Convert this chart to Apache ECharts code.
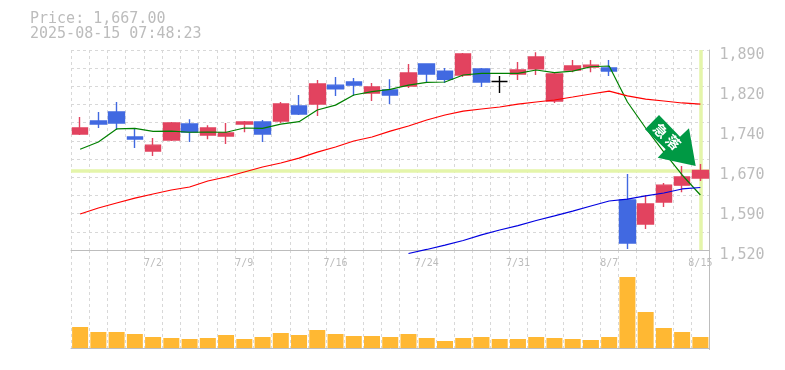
<!DOCTYPE html>
<html><head><meta charset="utf-8">
<style>html,body{margin:0;padding:0;background:#fff}#c{width:785px;height:370px}</style>
<script src="https://cdn.jsdelivr.net/npm/echarts@6/dist/echarts.min.js"></script>
</head><body><div id="c"></div>
<script>
const titleLines = ['Price: 1,667.00', '2025-08-15 07:48:23'];
const categories = ['6/26','6/27','6/30','7/1','7/2','7/3','7/4','7/7','7/8','7/9','7/10','7/11','7/14','7/15','7/16','7/17','7/18','7/22','7/23','7/24','7/25','7/28','7/29','7/30','7/31','8/1','8/4','8/5','8/6','8/7','8/8','8/12','8/13','8/14','8/15'];
const shownDates = ['7/2','7/9','7/16','7/24','7/31','8/7','8/15'];
const priceTicks = [1520,1594,1668,1742,1816,1890];
const priceTickLabels = ['1,520','1,590','1,670','1,740','1,820','1,890'];
const opens  = [1734.6,1758.7,1775.3,1729,1703,1723.5,1753,1732.8,1731,1753,1756.8,1758.7,1786.4,1790,1825,1830.8,1810.5,1816,1823.4,1864,1851,1843.8,1855,1831.7,1845.6,1855,1795.7,1853,1858.6,1856.7,1612.5,1568,1608.8,1640,1653];
const closes = [1745.7,1753,1755,1725.4,1714,1755,1738,1745.7,1736.5,1756.8,1734.6,1790,1771.6,1827,1818,1825,1821.6,1806.8,1847.5,1845.6,1836,1882.6,1830.8,1831.7,1853,1877,1845.6,1860.4,1862,1851,1533,1605,1640,1655,1667];
const lows   = [1732.8,1745.7,1742,1708.7,1694,1721.7,1720,1725,1716,1738,1720,1755,1769.8,1768,1805,1805,1795.7,1790,1819.7,1830.8,1829,1840,1821.6,1810.5,1834.5,1843.8,1792,1849,1849,1842,1521.9,1558.9,1599.6,1627,1647.6];
const highs  = [1766,1775.3,1793.8,1743.9,1727,1756.8,1762,1751,1755,1758.7,1760.5,1793.8,1806.8,1834.5,1840,1838,1829,1836,1864,1864,1856.7,1884.5,1856.7,1842,1867.8,1886,1849,1871.5,1871.5,1871.5,1660.6,1621.8,1644,1675.4,1679];
const maShort = [1706.3,1719.8,1743.9,1745,1739.6,1740,1737.8,1738.3,1737.8,1745.7,1745,1753,1757.4,1779,1788,1806.8,1812.9,1817.3,1825,1830,1830.8,1843.8,1846.9,1846.9,1846.9,1853,1848,1851,1859,1860.4,1793.8,1745.7,1701,1658.8,1621.8];
const maMid = [1586.6,1597.7,1607,1616,1623.6,1631,1636.6,1647.7,1655,1664.3,1673.6,1681,1690,1701,1710.6,1721.7,1729,1740,1749.4,1760.5,1769.8,1777,1780.9,1784.6,1790,1793.8,1797.5,1803,1808.6,1814,1805,1799,1795.7,1792,1790];
const maLong = [null,null,null,null,null,null,null,null,null,null,null,null,null,null,null,null,null,null,1513.5,1521,1529,1537.6,1548,1557,1565,1574.6,1583,1592,1601.4,1610.6,1614,1620,1625.5,1632.9,1635.6];
const volumes = [21,16,16,14,11,10,9,10,13,9,11,15,13,18,14,12,12,11,14,10,7,10,11,9,9,11,10,9,8,11,71,36,20,16,11];
const lastPrice = 1667;
const lastDate = '8/15';
const arrowLabel = ['急','落'];

const gridCol = '#d8d8d8', axisCol = '#bdbdbd', textCol = '#bcbcbc';
const mono = '"DejaVu Sans Mono", monospace';
const vSplit = {show:true, interval:0, lineStyle:{color:gridCol, type:[3,3], width:1}};

const candleData = categories.map((_, i) => [opens[i], closes[i], lows[i], highs[i]]);
const chart = echarts.init(document.getElementById('c'), null, {renderer:'canvas'});
const maLine = (data, color) => ({
  type:'line', data, xAxisIndex:0, yAxisIndex:0, symbol:'none', clip:false, silent:true,
  lineStyle:{color, width:1.2}, z:3
});
chart.setOption({
  animation:false,
  backgroundColor:'#fff',
  title:{
    text:titleLines.join('\n'), left:25, top:7,
    textStyle:{fontFamily:mono, fontSize:15, fontWeight:'normal', color:textCol, lineHeight:15}
  },
  grid:[
    {left:71, top:50, width:638.5, height:200},
    {left:71, top:250, width:638.5, height:99.5}
  ],
  xAxis:[
    {type:'category', gridIndex:0, data:categories, boundaryGap:true,
     axisLine:{show:true, lineStyle:{color:axisCol, width:1}}, axisTick:{show:false},
     splitLine:vSplit,
     axisLabel:{show:true, margin:8, fontFamily:mono, fontSize:10, color:textCol,
       interval:(i, v) => shownDates.includes(v), hideOverlap:false}},
    {type:'category', gridIndex:1, data:categories, boundaryGap:true,
     axisLine:{show:true, lineStyle:{color:axisCol, width:1}}, axisTick:{show:false},
     splitLine:vSplit, axisLabel:{show:false}}
  ],
  yAxis:[
    {type:'value', gridIndex:0, position:'right', min:1520, max:1890, scale:true,
     axisLine:{show:true, lineStyle:{color:axisCol, width:1}}, axisTick:{show:false},
     splitLine:{show:false},
     axisLabel:{show:true, customValues:priceTicks, margin:10,
       formatter:v => '{t|' + priceTickLabels[priceTicks.indexOf(v)] + '}',
       rich:{t:{padding:[10,0,0,0], fontFamily:mono, fontSize:15, color:textCol}}}},
    {type:'value', gridIndex:0, position:'left', min:0, max:11, interval:1,
     axisLine:{show:false}, axisTick:{show:false}, axisLabel:{show:false},
     splitLine:{show:true, lineStyle:{color:gridCol, type:[3,3], width:1}}},
    {type:'value', gridIndex:1, position:'right', min:-1.5, max:98,
     axisLine:{show:true, lineStyle:{color:axisCol, width:1}}, axisTick:{show:false},
     axisLabel:{show:false}, splitLine:{show:false}}
  ],
  series:[
    {type:'bar', xAxisIndex:1, yAxisIndex:2, data:volumes, barWidth:16,
     itemStyle:{color:'#ffb833'}, silent:true, z:2},
    {type:'candlestick', xAxisIndex:0, yAxisIndex:0, data:candleData, barWidth:16, silent:true, clip:false, z:2,
     itemStyle:{color:'#e2435f', color0:'#4169e1', borderColor:'#e2435f', borderColor0:'#4169e1', borderColorDoji:'#000', borderWidth:1.4},
     markLine:{silent:true, symbol:'none', label:{show:false}, animation:false, z:1,
       lineStyle:{color:'#e4f5aa', width:3.5, type:'solid'},
       data:[{yAxis:lastPrice},{xAxis:lastDate}]}},
    maLine(maShort,'#008000'),
    maLine(maMid,'#ff0000'),
    maLine(maLong,'#0000e0')
  ],
  graphic:[
    {type:'polygon', z:20, shape:{points:[[659,115],[645,129.3],[665.7,149.3],[657.7,157.7],[695.7,166],[689,128.3],[680,136.7]]},
     style:{fill:'#009944'}},
    {type:'text', z:21, x:660.7, y:130.7, rotation:-Math.PI/4,
     style:{text:arrowLabel[0], fill:'#fff', fontSize:14, fontWeight:'bold', fontFamily:'"Noto Sans CJK JP"', align:'center', verticalAlign:'middle'}},
    {type:'text', z:21, x:673.3, y:142.3, rotation:-Math.PI/4,
     style:{text:arrowLabel[1], fill:'#fff', fontSize:14, fontWeight:'bold', fontFamily:'"Noto Sans CJK JP"', align:'center', verticalAlign:'middle'}}
  ]
});
</script></body></html>
